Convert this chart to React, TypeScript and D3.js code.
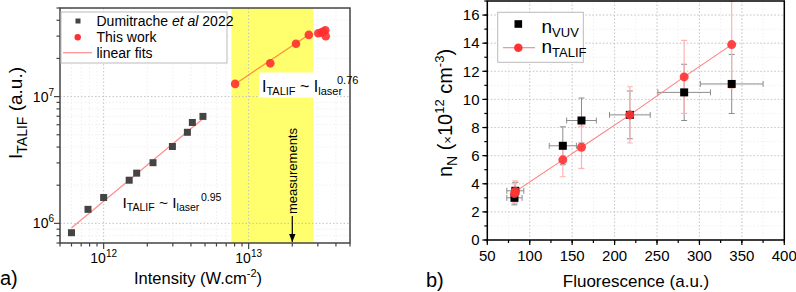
import React from 'react';
import * as d3 from 'd3';

// ---------- Panel a) data ----------
const dumX = [6.0e11, 7.8e11, 1.0e12, 1.5e12, 1.69e12, 2.19e12, 2.98e12, 3.78e12, 4.09e12, 4.84e12];
const dumY = [8.44e5, 1.29e6, 1.6e6, 2.19e6, 2.49e6, 3.01e6, 4.04e6, 5.23e6, 6.25e6, 6.98e6];
const workX = [8.07e12, 1.41e13, 2.12e13, 2.6e13, 3.02e13, 3.18e13, 3.38e13, 3.4e13, 3.27e13];
const workY = [1.26e7, 1.83e7, 2.61e7, 3.07e7, 3.16e7, 3.21e7, 3.34e7, 2.99e7, 3.24e7];
const fitDumX = [6e11, 5e12];
const fitDumY = [9.2e5, 6.9e6];
const fitWorkX = [8.07e12, 2.6e13];
const fitWorkY = [1.26e7, 3.07e7];
const bandX = [7.6e12, 2.8e13];
const measX = 2e13;
const xDomainA = [5e11, 5e13];
const yDomainA = [7e5, 5e7];
const xMajorA = [1e12, 1e13];
const xMajorExpA = ['12', '13'];
const yMajorA = [1e6, 1e7];
const yMajorExpA = ['6', '7'];

// ---------- Panel b) data ----------
const vuvF = [82, 83, 139, 161, 218, 282, 338];
const vuvN = [3.0, 3.5, 6.7, 8.5, 8.9, 10.5, 11.1];
const vuvFErr = [9, 10, 16, 17.5, 24, 31, 37];
const vuvNErr = [0.5, 0.6, 1.35, 1.6, 1.7, 2.0, 2.1];
const talifF = [82, 83, 139, 161, 218, 282, 338];
const talifN = [3.3, 3.45, 5.7, 6.6, 8.9, 11.6, 13.9];
const talifNErr = [0.7, 0.75, 1.2, 1.5, 2.0, 2.6, 3.1];
const xDomainB = [50, 400];
const yDomainB = [0, 17];
const xTicksB = [50, 100, 150, 200, 250, 300, 350, 400];
const yTicksB = [0, 2, 4, 6, 8, 10, 12, 14, 16];

const FONT = 'Liberation Sans, Arial, Helvetica, sans-serif';

export default function App() {
  // panel a scales
  const xA = d3.scaleLog().domain(xDomainA).range([60, 350]);
  const yA = d3.scaleLog().domain(yDomainA).range([243, 8]);
  const xMinorA = xA.ticks().filter((t) => !xMajorA.some((m) => Math.abs(m - t) / m < 1e-6));
  const yMinorA = yA.ticks().filter((t) => !yMajorA.some((m) => Math.abs(m - t) / m < 1e-6));
  const lineA = d3.line<[number, number]>().x((d) => xA(d[0])).y((d) => yA(d[1]));

  // panel b scales
  const xB = d3.scaleLinear().domain(xDomainB).range([487.3, 784.3]);
  const yB = d3.scaleLinear().domain(yDomainB).range([240, 1]);
  const xMinorB = d3.range(xDomainB[0], xDomainB[1] + 1, 25);
  const yMinorB = d3.range(yDomainB[0], yDomainB[1] + 0.01, 1);
  const talifPts = talifF.map((f, i) => [f, talifN[i]] as [number, number]).sort((a, b) => a[0] - b[0]);
  const lineB = d3.line<[number, number]>().x((d) => xB(d[0])).y((d) => yB(d[1]));

  const [ax0, ax1] = xA.range();
  const [ay0, ay1] = yA.range();
  const [bx0, bx1] = xB.range();
  const [by0, by1] = yB.range();

  return (
    <svg width={796} height={292} style={{ position: 'absolute', left: 0, top: 0, background: '#fff' }} fontFamily={FONT}>
      <defs>
        <clipPath id="clipA"><rect x={ax0} y={ay1} width={ax1 - ax0} height={ay0 - ay1} /></clipPath>
        <clipPath id="clipB"><rect x={bx0} y={by1} width={bx1 - bx0} height={by0 - by1} /></clipPath>
        <marker id="arrow" viewBox="0 0 10 10" refX="10" refY="5" markerWidth="7" markerHeight="7" orient="auto">
          <path d="M0,1 L10,5 L0,9 z" fill="#000" />
        </marker>
      </defs>

      {/* ================= Panel a ================= */}
      <rect x={ax0} y={ay1} width={ax1 - ax0} height={ay0 - ay1} fill="#fff" />
      {/* minor grid */}
      <g stroke="#ececec" strokeWidth={0.8} strokeDasharray="1.5,2">
        {xMinorA.map((t, i) => <line key={'xmg' + i} x1={xA(t)} x2={xA(t)} y1={ay1} y2={ay0} />)}
        {yMinorA.map((t, i) => <line key={'ymg' + i} x1={ax0} x2={ax1} y1={yA(t)} y2={yA(t)} />)}
      </g>
      {/* yellow band */}
      <rect x={xA(bandX[0])} y={ay1} width={xA(bandX[1]) - xA(bandX[0])} height={ay0 - ay1} fill="#ffff6e" />
      {/* major grid */}
      <g stroke="#bdbdbd" strokeWidth={0.9} strokeDasharray="1.5,2">
        {xMajorA.map((t, i) => <line key={'xg' + i} x1={xA(t)} x2={xA(t)} y1={ay1} y2={ay0} />)}
        {yMajorA.map((t, i) => <line key={'yg' + i} x1={ax0} x2={ax1} y1={yA(t)} y2={yA(t)} />)}
      </g>
      {/* fits */}
      <g clipPath="url(#clipA)" fill="none" stroke="#ff0000" strokeOpacity={0.45} strokeWidth={1.2}>
        <path d={lineA(fitDumX.map((x, i) => [x, fitDumY[i]]) as [number, number][]) || ''} />
        <path d={lineA(fitWorkX.map((x, i) => [x, fitWorkY[i]]) as [number, number][]) || ''} />
      </g>
      {/* data */}
      <g fill="#444">
        {dumX.map((x, i) => <rect key={'d' + i} x={xA(x) - 3.5} y={yA(dumY[i]) - 3.5} width={7} height={7} />)}
      </g>
      <g fill="#ff3030" fillOpacity={0.9}>
        {workX.map((x, i) => <circle key={'w' + i} cx={xA(x)} cy={yA(workY[i])} r={4.3} />)}
      </g>
      {/* measurements annotation */}
      <text transform={`translate(${xA(measX) + 4.5},214) rotate(-90)`} fontSize={13} fill="#000">measurements</text>
      <line x1={xA(measX)} x2={xA(measX)} y1={216} y2={ay0 - 1} stroke="#000" strokeWidth={1.2} markerEnd="url(#arrow)" />
      {/* frame */}
      <rect x={ax0} y={ay1} width={ax1 - ax0} height={ay0 - ay1} fill="none" stroke="#444" strokeWidth={1.5} />
      {/* ticks */}
      <g stroke="#444" strokeWidth={1.2}>
        {xMajorA.map((t, i) => <line key={'xt' + i} x1={xA(t)} x2={xA(t)} y1={ay0} y2={ay0 + 6} />)}
        {xMinorA.map((t, i) => <line key={'xmt' + i} x1={xA(t)} x2={xA(t)} y1={ay0} y2={ay0 + 3.5} />)}
        {yMajorA.map((t, i) => <line key={'yt' + i} x1={ax0} x2={ax0 - 6} y1={yA(t)} y2={yA(t)} />)}
        {yMinorA.map((t, i) => <line key={'ymt' + i} x1={ax0} x2={ax0 - 3.5} y1={yA(t)} y2={yA(t)} />)}
      </g>
      {/* tick labels */}
      {xMajorA.map((t, i) => (
        <text key={'xl' + i} x={xA(t)} y={263} fontSize={14} textAnchor="middle" fill="#000">
          10<tspan fontSize={10} dy={-6}>{xMajorExpA[i]}</tspan>
        </text>
      ))}
      {yMajorA.map((t, i) => (
        <text key={'yl' + i} x={54} y={yA(t) + 5} fontSize={14} textAnchor="end" fill="#000">
          10<tspan fontSize={10} dy={-6}>{yMajorExpA[i]}</tspan>
        </text>
      ))}
      {/* axis titles */}
      <text x={198} y={284} fontSize={16.5} textAnchor="middle" fill="#000">
        Intensity (W.cm<tspan fontSize={11} dy={-7}>-2</tspan><tspan dy={7}>)</tspan>
      </text>
      <text transform="translate(22,113) rotate(-90)" fontSize={19} textAnchor="middle" fill="#000">
        I<tspan fontSize={14} dy={5}>TALIF</tspan><tspan dy={-5}> (a.u.)</tspan>
      </text>
      <text x={0} y={285} fontSize={20} fill="#000">a)</text>
      {/* fit annotations */}
      <text x={122.5} y={208} fontSize={15.5} fill="#000">
        I<tspan fontSize={10.5} dy={3}>TALIF</tspan><tspan dy={-3}> ~ I</tspan><tspan fontSize={10.5} dy={3}>laser</tspan>
      </text>
      <text x={201} y={201} fontSize={10.5} fill="#000">0.95</text>
      <rect x={259} y={72.5} width={78} height={25} fill="#fff" />
      <text x={262} y={91.5} fontSize={16} fill="#000">
        I<tspan fontSize={11} dy={3}>TALIF</tspan><tspan dy={-3}> ~ I</tspan><tspan fontSize={11} dy={3}>laser</tspan>
      </text>
      <text x={337} y={83.5} fontSize={11} fill="#000">0.76</text>
      {/* legend a */}
      <rect x={61} y={12} width={166} height={51} fill="#fff" stroke="#bbb" strokeWidth={1} />
      <rect x={75.5} y={18.5} width={5} height={5} fill="#444" />
      <text x={96.5} y={26} fontSize={14} fill="#000">
        Dumitrache <tspan fontStyle="italic">et al</tspan> 2022
      </text>
      <circle cx={77.7} cy={37.3} r={3.2} fill="#ff3030" />
      <text x={96.5} y={42} fontSize={14} fill="#000">This work</text>
      <line x1={63} x2={92} y1={52.7} y2={52.7} stroke="#ff0000" strokeOpacity={0.45} strokeWidth={1.2} />
      <text x={96.5} y={57.5} fontSize={14} fill="#000">linear fits</text>

      {/* ================= Panel b ================= */}
      <g stroke="#ececec" strokeWidth={0.8} strokeDasharray="1.5,2">
        {xMinorB.map((t, i) => <line key={'bxmg' + i} x1={xB(t)} x2={xB(t)} y1={by1} y2={by0} />)}
        {yMinorB.map((t, i) => <line key={'bymg' + i} x1={bx0} x2={bx1} y1={yB(t)} y2={yB(t)} />)}
      </g>
      <g stroke="#c4c4c4" strokeWidth={0.9} strokeDasharray="1.5,2">
        {xTicksB.map((t, i) => <line key={'bxg' + i} x1={xB(t)} x2={xB(t)} y1={by1} y2={by0} />)}
        {yTicksB.map((t, i) => <line key={'byg' + i} x1={bx0} x2={bx1} y1={yB(t)} y2={yB(t)} />)}
      </g>
      <g clipPath="url(#clipB)">
        {/* VUV error bars */}
        <g stroke="#8c8c8c" strokeWidth={1} fill="none">
          {vuvF.map((f, i) => {
            const cx = xB(f), cy = yB(vuvN[i]);
            const xl = xB(f - vuvFErr[i]), xr = xB(f + vuvFErr[i]);
            const yt = yB(vuvN[i] + vuvNErr[i]), yb = yB(vuvN[i] - vuvNErr[i]);
            return (
              <g key={'ve' + i}>
                <line x1={xl} x2={xr} y1={cy} y2={cy} />
                <line x1={xl} x2={xl} y1={cy - 3} y2={cy + 3} />
                <line x1={xr} x2={xr} y1={cy - 3} y2={cy + 3} />
                <line x1={cx} x2={cx} y1={yt} y2={yb} />
                <line x1={cx - 3} x2={cx + 3} y1={yt} y2={yt} />
                <line x1={cx - 3} x2={cx + 3} y1={yb} y2={yb} />
              </g>
            );
          })}
        </g>
        {/* TALIF error bars */}
        <g stroke="#ffb3b3" strokeWidth={1.2} fill="none">
          {talifF.map((f, i) => {
            const cx = xB(f);
            const yt = yB(talifN[i] + talifNErr[i]), yb = yB(talifN[i] - talifNErr[i]);
            return (
              <g key={'te' + i}>
                <line x1={cx} x2={cx} y1={yt} y2={yb} />
                <line x1={cx - 3} x2={cx + 3} y1={yt} y2={yt} />
                <line x1={cx - 3} x2={cx + 3} y1={yb} y2={yb} />
              </g>
            );
          })}
        </g>
        <path d={lineB(talifPts) || ''} fill="none" stroke="#ff8080" strokeWidth={1.1} />
        <g fill="#000">
          {vuvF.map((f, i) => <rect key={'vs' + i} x={xB(f) - 4} y={yB(vuvN[i]) - 4} width={8} height={8} />)}
        </g>
        <g fill="#ff3535" fillOpacity={0.92}>
          {talifF.map((f, i) => <circle key={'tc' + i} cx={xB(f)} cy={yB(talifN[i])} r={4.5} />)}
        </g>
      </g>
      <rect x={bx0} y={by1} width={bx1 - bx0} height={by0 - by1} fill="none" stroke="#000" strokeWidth={1.5} />
      <g stroke="#000" strokeWidth={1.2}>
        {xTicksB.map((t, i) => <line key={'bxt' + i} x1={xB(t)} x2={xB(t)} y1={by0} y2={by0 + 5} />)}
        {xMinorB.map((t, i) => <line key={'bxmt' + i} x1={xB(t)} x2={xB(t)} y1={by0} y2={by0 + 3} />)}
        {yTicksB.map((t, i) => <line key={'byt' + i} x1={bx0} x2={bx0 - 5} y1={yB(t)} y2={yB(t)} />)}
        {yMinorB.map((t, i) => <line key={'bymt' + i} x1={bx0} x2={bx0 - 3} y1={yB(t)} y2={yB(t)} />)}
      </g>
      {xTicksB.map((t, i) => (
        <text key={'bxl' + i} x={xB(t)} y={261} fontSize={15} textAnchor="middle" fill="#000">{t}</text>
      ))}
      {yTicksB.map((t, i) => (
        <text key={'byl' + i} x={479.5} y={yB(t) + 5.3} fontSize={15} textAnchor="end" fill="#000">{t}</text>
      ))}
      <text x={636} y={287} fontSize={17} textAnchor="middle" fill="#000">Fluorescence (a.u.)</text>
      <text transform="translate(452,113) rotate(-90)" fontSize={20} textAnchor="middle" fill="#000">
        n<tspan fontSize={14} dy={5}>N</tspan><tspan dy={-5}> (</tspan><tspan fontSize={13}>×</tspan>10<tspan fontSize={13} dy={-8}>12</tspan><tspan dy={8}> cm</tspan><tspan fontSize={13} dy={-8}>-3</tspan><tspan dy={8}>)</tspan>
      </text>
      <text x={426} y={287} fontSize={20} fill="#000">b)</text>
      {/* legend b */}
      <rect x={497.7} y={12.3} width={85.6} height={50} fill="#fff" stroke="#bbb" strokeWidth={1} />
      <rect x={514.5} y={20.2} width={7.6} height={7.6} fill="#000" />
      <text x={541.5} y={33} fontSize={19} fill="#000">
        n<tspan fontSize={13} dy={4}>VUV</tspan>
      </text>
      <line x1={503} x2={535} y1={47.7} y2={47.7} stroke="#ff8080" strokeWidth={1.1} />
      <circle cx={518.3} cy={47.7} r={4.3} fill="#ff3535" />
      <text x={541.5} y={53} fontSize={19} fill="#000">
        n<tspan fontSize={13} dy={4}>TALIF</tspan>
      </text>
    </svg>
  );
}
